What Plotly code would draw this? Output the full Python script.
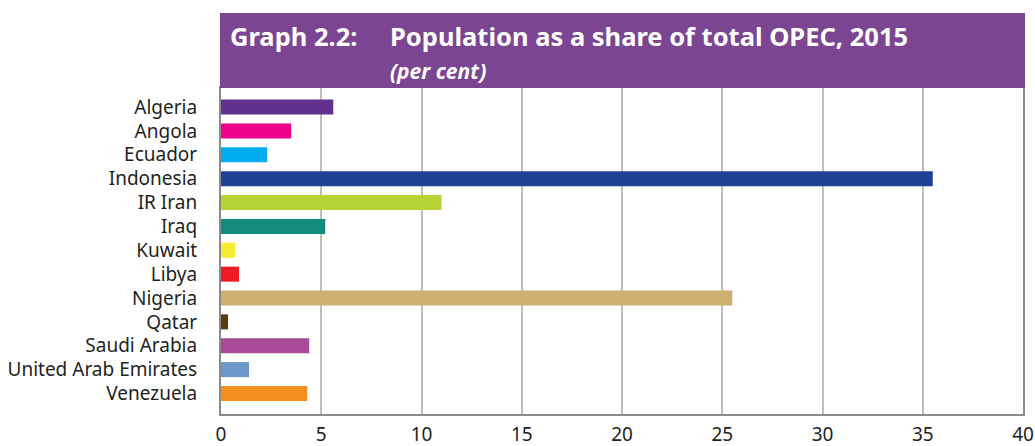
import plotly.graph_objects as go

countries = ["Algeria", "Angola", "Ecuador", "Indonesia", "IR Iran", "Iraq", "Kuwait",
             "Libya", "Nigeria", "Qatar", "Saudi Arabia", "United Arab Emirates", "Venezuela"]
shares = [5.6, 3.5, 2.3, 35.5, 11.0, 5.2, 0.7, 0.9, 25.5, 0.35, 4.4, 1.4, 4.3]
colors = ["#62318F", "#EC008C", "#00AEEF", "#1F4196", "#B5D334", "#138A7C", "#F8EC31",
          "#ED1C24", "#CDAF71", "#5C3B0C", "#A84A97", "#6C97C9", "#F68E1F"]
x_ticks = [0, 5, 10, 15, 20, 25, 30, 35, 40]

title_main = "Population as a share of total OPEC, 2015"
title_label = "Graph 2.2:"
subtitle = "(per cent)"

FONT = "Noto Sans"
L, R, T, B = 221, 12, 88, 32
PW = 1035 - L - R
PH = 446 - T - B

fig = go.Figure(go.Bar(
    x=shares, y=countries, orientation="h",
    marker=dict(color=colors, line=dict(width=0)),
    width=0.63,
))

fig.update_layout(
    width=1035, height=446,
    margin=dict(l=L, r=R, t=T, b=B, autoexpand=False),
    paper_bgcolor="white", plot_bgcolor="white",
    showlegend=False,
    font=dict(family=FONT, size=19, color="#231F20"),
    xaxis=dict(
        range=[0, 40], tickvals=x_ticks, showgrid=True, gridcolor="#BDBDBD", gridwidth=2,
        zeroline=False, showline=True, linecolor="#8A8A8A", linewidth=2, mirror=True,
        ticks="", ticklen=0, ticklabelstandoff=2, automargin=False,
        tickfont=dict(size=19, color="#231F20"),
    ),
    yaxis=dict(
        categoryorder="array", categoryarray=countries,
        range=[12.86, -0.8], showgrid=False, zeroline=False,
        showline=True, linecolor="#8A8A8A", linewidth=2, mirror=True,
        ticks="", ticklen=0, ticklabelstandoff=18, automargin=False,
        tickfont=dict(size=19, color="#231F20"),
    ),
    shapes=[dict(type="rect", xref="paper", yref="paper",
                 x0=-1 / PW, x1=1 + 2 / PW, y0=1.0, y1=1 + 75 / PH,
                 fillcolor="#7B4592", line=dict(width=0), layer="above")],
    annotations=[
        dict(text="<b>" + title_label + "</b>", xref="paper", yref="paper",
             x=(228 - L) / PW, y=1 + (T - 36) / PH, xanchor="left", yanchor="middle",
             showarrow=False, font=dict(family=FONT, size=25.5, color="white")),
        dict(text="<b>" + title_main + "</b>", xref="paper", yref="paper",
             x=(388 - L) / PW, y=1 + (T - 36) / PH, xanchor="left", yanchor="middle",
             showarrow=False, font=dict(family=FONT, size=25.5, color="white")),
        dict(text="<b><i>" + subtitle + "</i></b>", xref="paper", yref="paper",
             x=(388 - L) / PW, y=1 + (T - 71) / PH, xanchor="left", yanchor="middle",
             showarrow=False, font=dict(family=FONT, size=21, color="white")),
    ],
)

fig.write_html("out.html", config={"displayModeBar": False},
               post_script="document.body.style.margin='0';document.body.style.overflow='hidden';")
